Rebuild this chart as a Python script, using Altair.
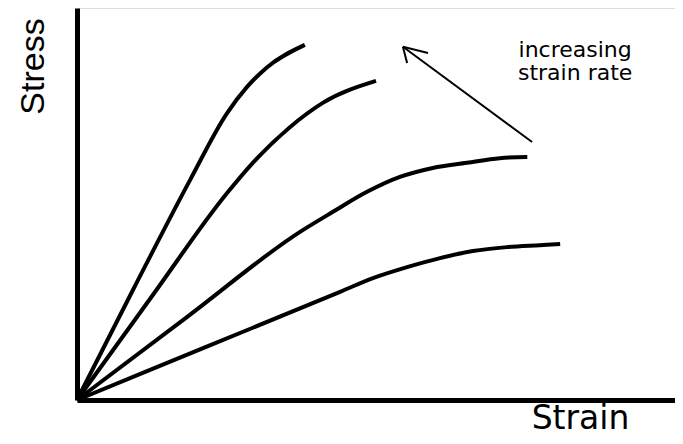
import altair as alt
import pandas as pd

# Four stress-strain curves (strain, stress) in arbitrary units 0-100
c1_x = [0, 9.5, 18.9, 25.1, 28.4, 31.8, 38.1]
c1_y = [0, 28.5, 56.1, 73.2, 79.8, 84.9, 90.6]
c2_x = [0, 12.5, 25.1, 29.4, 35.6, 41.1, 50.0]
c2_y = [0, 26.4, 52.8, 60.5, 69.6, 75.8, 81.4]
c3_x = [0, 18.6, 37.3, 42.8, 48.5, 54.0, 59.5, 65.2, 70.7, 75.3]
c3_y = [0, 21.4, 42.9, 48.0, 53.1, 56.9, 59.2, 60.5, 61.7, 62.0]
c4_x = [0, 22.0, 44.0, 49.5, 55.2, 60.7, 66.2, 71.9, 77.4, 80.8]
c4_y = [0, 13.8, 27.6, 31.1, 33.9, 36.2, 38.0, 39.0, 39.5, 39.8]
curve_names = ["c1", "c2", "c3", "c4"]

# Arrow annotation: shaft and two head wings (start -> end)
arrow_x = [76.1, 54.5, 54.5]
arrow_y = [65.8, 90.1, 90.1]
arrow_x2 = [54.5, 58.7, 55.2]
arrow_y2 = [90.1, 88.5, 86.0]

note_lines = ["increasing", "strain rate"]
note_x = [83.3, 83.3]
note_y = [87.5, 81.6]

rows = []
for name, xs, ys in zip(curve_names, [c1_x, c2_x, c3_x, c4_x], [c1_y, c2_y, c3_y, c4_y]):
    for i, (a, b) in enumerate(zip(xs, ys)):
        rows.append({"curve": name, "order": i, "strain": a, "stress": b})
curves = pd.DataFrame(rows)
arrows = pd.DataFrame({"x": arrow_x, "y": arrow_y, "x2": arrow_x2, "y2": arrow_y2})
notes = pd.DataFrame({"text": note_lines, "x": note_x, "y": note_y})

xscale = alt.Scale(domain=[0, 100], nice=False, zero=False)
yscale = alt.Scale(domain=[0, 100], nice=False, zero=False)

x_axis = alt.Axis(
    title="Strain", titleFont="DejaVu Sans", titleFontSize=33, titleFontWeight="normal",
    titleColor="black", titleX=503, titleY=35, titleAlign="center", titleBaseline="bottom",
    domainWidth=5, domainColor="black", ticks=False, labels=False, grid=False,
)
y_axis = alt.Axis(
    title="Stress", titleFont="Liberation Sans", titleFontSize=34, titleFontWeight="normal",
    titleColor="black", titleX=-44, titleY=58, titleAngle=-90, titleAlign="center",
    titleBaseline="middle", domainWidth=5, domainColor="black", ticks=False, labels=False,
    grid=False,
)

lines = alt.Chart(curves).mark_line(color="black", strokeWidth=4, interpolate="monotone").encode(
    x=alt.X("strain:Q", scale=xscale, axis=x_axis),
    y=alt.Y("stress:Q", scale=yscale, axis=y_axis),
    detail="curve:N",
    order="order:Q",
)

arrow = alt.Chart(arrows).mark_rule(color="black", strokeWidth=2).encode(
    x=alt.X("x:Q", scale=xscale),
    y=alt.Y("y:Q", scale=yscale),
    x2="x2:Q",
    y2="y2:Q",
)

text = alt.Chart(notes).mark_text(
    font="DejaVu Sans", fontSize=22, color="black", align="center", baseline="alphabetic"
).encode(
    x=alt.X("x:Q", scale=xscale),
    y=alt.Y("y:Q", scale=yscale),
    text="text:N",
)

chart = alt.layer(lines, arrow, text).properties(
    width=598, height=392,
    autosize=alt.AutoSizeParams(type="none"),
    padding={"left": 69, "top": 0, "right": 0, "bottom": 36},
).configure_view(stroke=None).configure(background="white")

chart.save("out.html", embed_options={"renderer": "svg", "actions": False})
